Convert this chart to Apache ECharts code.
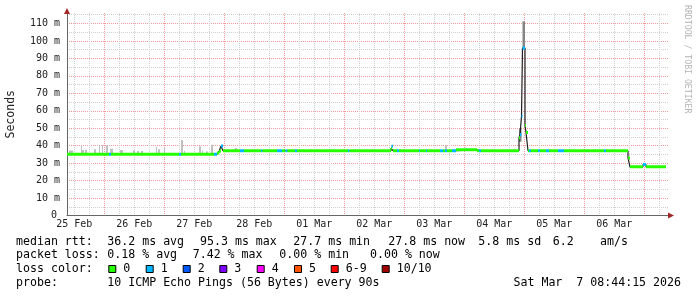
<!DOCTYPE html>
<html><head><meta charset="utf-8">
<script src="https://cdn.jsdelivr.net/npm/echarts@6/dist/echarts.min.js"></script>
<style>html,body{margin:0;padding:0;background:#fff}#c{width:697px;height:297px}</style>
</head><body><div id="c"></div>
<script>
// x values are hours since 25 Feb 2026 00:00
const X_MIN = 9.1, X_MAX = 249.9, MEDIAN_END = 248.7;
const Y_MAX = 116;
const dayLabels = ['25 Feb','26 Feb','27 Feb','28 Feb','01 Mar','02 Mar','03 Mar','04 Mar','05 Mar','06 Mar'];
const dayLabelHours = [12,36,60,84,108,132,156,180,204,228];
const majorHours = [24,48,72,96,120,144,168,192,216,240];
const yTickValues = [0,10,20,30,40,50,60,70,80,90,100,110];
const yTickLabels = ['0','10 m','20 m','30 m','40 m','50 m','60 m','70 m','80 m','90 m','100 m','110 m'];
const yMinorValues = [5,15,25,35,45,55,65,75,85,95,105,115];

// median rtt steps: [start hour, median (ms), lost pings]
const medianSteps = [
 [9.1,35.1,0],[25.9,35.1,1],[26.7,35.1,0],[53.9,35.1,1],[54.7,35.1,0],[67.9,35.1,1],
 [69.1,35.8,0],[69.9,36.6,0],[70.3,36.9,0],[70.7,39.8,1],[71.5,37.1,0],[78.3,37.1,1],
 [79.9,37.1,0],[86.7,37.1,1],[87.3,37.1,0],[93.1,37.1,1],[95.1,37.1,0],[96.5,37.1,1],
 [97.3,37.1,0],[100.3,37.1,1],[101.1,37.1,0],[121.5,37.1,1],[122.1,37.1,0],[138.7,38.5,0],
 [138.9,39.6,1],[139.5,37.1,0],[141.1,37.1,1],[141.9,37.1,0],[149.9,37.1,1],[150.3,37.1,0],
 [152.7,37.1,1],[153.1,37.1,0],[158.3,37.1,1],[159.5,37.1,0],[160.3,37.1,1],[161.1,37.1,0],
 [163.1,37.1,1],[164.7,37.6,0],[173.1,37.1,0],[173.9,37.1,1],[174.7,37.1,0],[189.9,44.5,0],
 [190.3,46.3,1],[190.9,56.8,1],[191.3,95.9,1],[192.3,51.5,0],[192.7,47.6,0],[193.5,37.1,0],
 [193.9,37.1,1],[194.7,37.1,0],[197.5,37.1,1],[198.3,37.1,0],[200.7,37.1,1],[201.9,37.1,0],
 [205.5,37.1,1],[207.9,37.1,0],[223.9,37.1,1],[224.7,37.1,0],[233.5,33.0,0],[234.3,27.9,0],
 [239.5,29.2,1],[240.7,27.9,0]
];
// smoke (spread of pings): [start hour, end hour, low ms, high ms]
const smokeLight = [
 [9.9,10.7,35.1,37.3],[10.7,11.5,35.1,37.3],[14.7,15.1,35.1,40.2],[15.1,15.9,35.1,37.5],
 [16.3,17.1,35.1,37.5],[19.9,20.7,35.1,37.9],[21.9,22.3,35.1,40.2],[23.1,23.5,35.1,40.2],
 [24.7,25.5,35.1,40.2],[26.3,27.5,35.1,38.2],[30.3,31.5,35.1,37.5],[35.5,36.3,35.1,37.3],
 [37.1,37.9,35.1,36.9],[38.7,39.5,35.1,36.9],[44.7,45.1,35.1,39.2],[45.5,46.3,35.1,37.9],
 [47.9,48.3,35.1,39.0],[54.7,55.5,35.1,43.2],[55.9,56.3,35.1,37.1],[61.9,62.7,35.1,39.6],
 [63.1,63.5,35.1,37.3],[64.7,65.5,35.1,36.7],[66.7,67.5,35.1,40.5],[76.3,77.1,37.1,38.6],
 [160.3,161.1,37.1,40.3]
];
const smokeDark = [[189.9,190.9,42.2,50.0],[191.3,192.3,95.9,111.3]];

const lossLabels = ['0','1','2','3','4','5','6-9','10/10'];
const lossColors = ['#26ff00','#00b8ff','#0059ff','#7e00ff','#ff00ff','#ff5500','#ff0000','#a00000'];
const rttStats = ['36.2 ms avg','95.3 ms max','27.7 ms min','27.8 ms now','5.8 ms sd','6.2','am/s'];
const lossStats = ['0.18 % avg','7.42 % max','0.00 % min','0.00 % now'];
const probeText = '10 ICMP Echo Pings (56 Bytes) every 90s';
const stampText = 'Sat Mar  7 08:44:15 2026';

const minorHours = [];
for (let d = 0; d <= 10; d++) for (const q of [6,12,18]) { const h = d*24+q; if (h > X_MIN && h < X_MAX) minorHours.push(h); }

const MONO = 'DejaVu Sans Mono';
const medianLine = medianSteps.map(s => [s[0], s[1]]).concat([[MEDIAN_END, medianSteps[medianSteps.length-1][1]]]);
const medianSegs = medianSteps.map((s,i) => [s[0], i+1 < medianSteps.length ? medianSteps[i+1][0] : MEDIAN_END, s[1], s[2]]);

function smokeSeries(data, color) {
  return {
    type:'custom', data, dimensions:['x0','x1','y0','y1'], encode:{x:[0,1], y:[2,3]}, z:1, clip:true,
    renderItem(params, api) {
      const a = api.coord([api.value(0), api.value(3)]);
      const b = api.coord([api.value(1), api.value(2)]);
      return {type:'rect', shape:{x:a[0], y:a[1], width:Math.max(b[0]-a[0],1), height:b[1]-a[1]}, style:{fill:color}};
    }
  };
}

const chart = echarts.init(document.getElementById('c'), null, {renderer:'canvas'});
const axBase = {type:'value', min:X_MIN, max:X_MAX, position:'bottom'};
const yBase = {type:'value', min:0, max:Y_MAX, position:'left'};
const graphics = [];
const txt = (x, y, text, align) => graphics.push({type:'text', x, y, silent:true,
  style:{text, font:'11.6px "' + MONO + '"', fill:'#000', align:align||'left', verticalAlign:'middle'}});
// legend rows
const rowY = [241.5, 255, 269, 283];
txt(16, rowY[0], 'median rtt:');
[107.3,200,293.3,388.3,478.3,552.7,600].forEach((x,i) => txt(x, rowY[0], rttStats[i]));
txt(16, rowY[1], 'packet loss:');
[107.3,192.7,279.3,370].forEach((x,i) => txt(x, rowY[1], lossStats[i]));
txt(16, rowY[2], 'loss color:');
const boxX = [108.3,145.7,182.7,219.3,256.7,294,330.7,381.7];
boxX.forEach((x,i) => {
  graphics.push({type:'rect', silent:true, shape:{x:x+0.5, y:rowY[2]-3.5, width:7, height:7}, style:{fill:lossColors[i], stroke:'#000', lineWidth:1}});
  txt(x+15, rowY[2], lossLabels[i]);
});
txt(16, rowY[3], 'probe:');
txt(107.3, rowY[3], probeText);
txt(681, rowY[3], stampText, 'right');
graphics.push({type:'text', x:687, y:5, rotation:-Math.PI/2, silent:true,
  style:{text:'RRDTOOL / TOBI OETIKER', font:'8.2px "' + MONO + '"', fill:'#b4b4b4', align:'left', verticalAlign:'middle'}});

const GRID_MINOR = {color:'#d0d0d0', width:1, type:[1,1]};
const GRID_MAJOR = {color:'#f29a9a', width:1, type:[1,1]};

chart.setOption({
  animation:false,
  backgroundColor:'#fff',
  grid:{left:67, right:28, top:13, bottom:81.5, containLabel:false, outerBoundsMode:'none'},
  xAxis:[
    Object.assign({}, axBase, {
      axisLine:{show:true, onZero:false, lineStyle:{color:'#666', width:1}},
      axisTick:{show:false, customValues:dayLabelHours},
      axisLabel:{customValues:dayLabelHours, formatter:v => dayLabels[dayLabelHours.indexOf(v)],
        fontFamily:MONO, fontSize:10, color:'#222', margin:4},
      splitLine:{show:false}
    }),
    Object.assign({}, axBase, {
      axisLine:{show:false}, axisTick:{show:false, customValues:minorHours}, axisLabel:{show:false},
      splitLine:{show:true, lineStyle:GRID_MINOR}
    }),
    Object.assign({}, axBase, {
      axisLine:{show:true, onZero:false, symbol:['none','triangle'], symbolSize:[6,6], symbolOffset:[0,2],
        lineStyle:{color:'#a02828', width:0}},
      axisTick:{show:false, customValues:majorHours}, axisLabel:{show:false},
      splitLine:{show:true, lineStyle:GRID_MAJOR}
    })
  ],
  yAxis:[
    Object.assign({}, yBase, {
      name:'Seconds', nameLocation:'middle', nameGap:50,
      nameTextStyle:{fontFamily:MONO, fontSize:11.5, color:'#222'},
      axisLine:{show:true, onZero:false, lineStyle:{color:'#666', width:1}},
      axisTick:{show:false, customValues:yTickValues},
      axisLabel:{customValues:yTickValues, fontFamily:MONO, fontSize:10, color:'#222', margin:7,
        formatter:v => v === 0 ? '{z|0}' : yTickLabels[yTickValues.indexOf(v)],
        rich:{z:{fontFamily:MONO, fontSize:10, color:'#222', padding:[0,3,0,0]}}},
      splitLine:{show:true, lineStyle:GRID_MAJOR}
    }),
    Object.assign({}, yBase, {
      axisLine:{show:false}, axisTick:{show:false, customValues:yMinorValues}, axisLabel:{show:false},
      splitLine:{show:true, lineStyle:GRID_MINOR}
    }),
    Object.assign({}, yBase, {
      axisLine:{show:true, onZero:false, symbol:['none','triangle'], symbolSize:[6,6], symbolOffset:[0,2],
        lineStyle:{color:'#a02828', width:0}},
      axisTick:{show:false, customValues:[0]}, axisLabel:{show:false}, splitLine:{show:false}
    })
  ],
  series:[
    smokeSeries(smokeLight, '#c0c0c0'),
    smokeSeries(smokeDark, '#858585'),
    {type:'line', data:medianLine, step:'end', symbol:'none', z:2, clip:true,
      lineStyle:{color:'#202020', width:1.2}},
    {type:'custom', data:medianSegs, dimensions:['x0','x1','v','loss'], encode:{x:[0,1], y:2}, z:3, clip:true,
      renderItem(params, api) {
        const a = api.coord([api.value(0), api.value(2)]);
        const b = api.coord([api.value(1), api.value(2)]);
        return {type:'rect', shape:{x:a[0], y:a[1]-1.5, width:Math.max(b[0]-a[0],1), height:3},
          style:{fill:lossColors[api.value(3)]}};
      }}
  ],
  graphic:graphics
});
</script></body></html>
